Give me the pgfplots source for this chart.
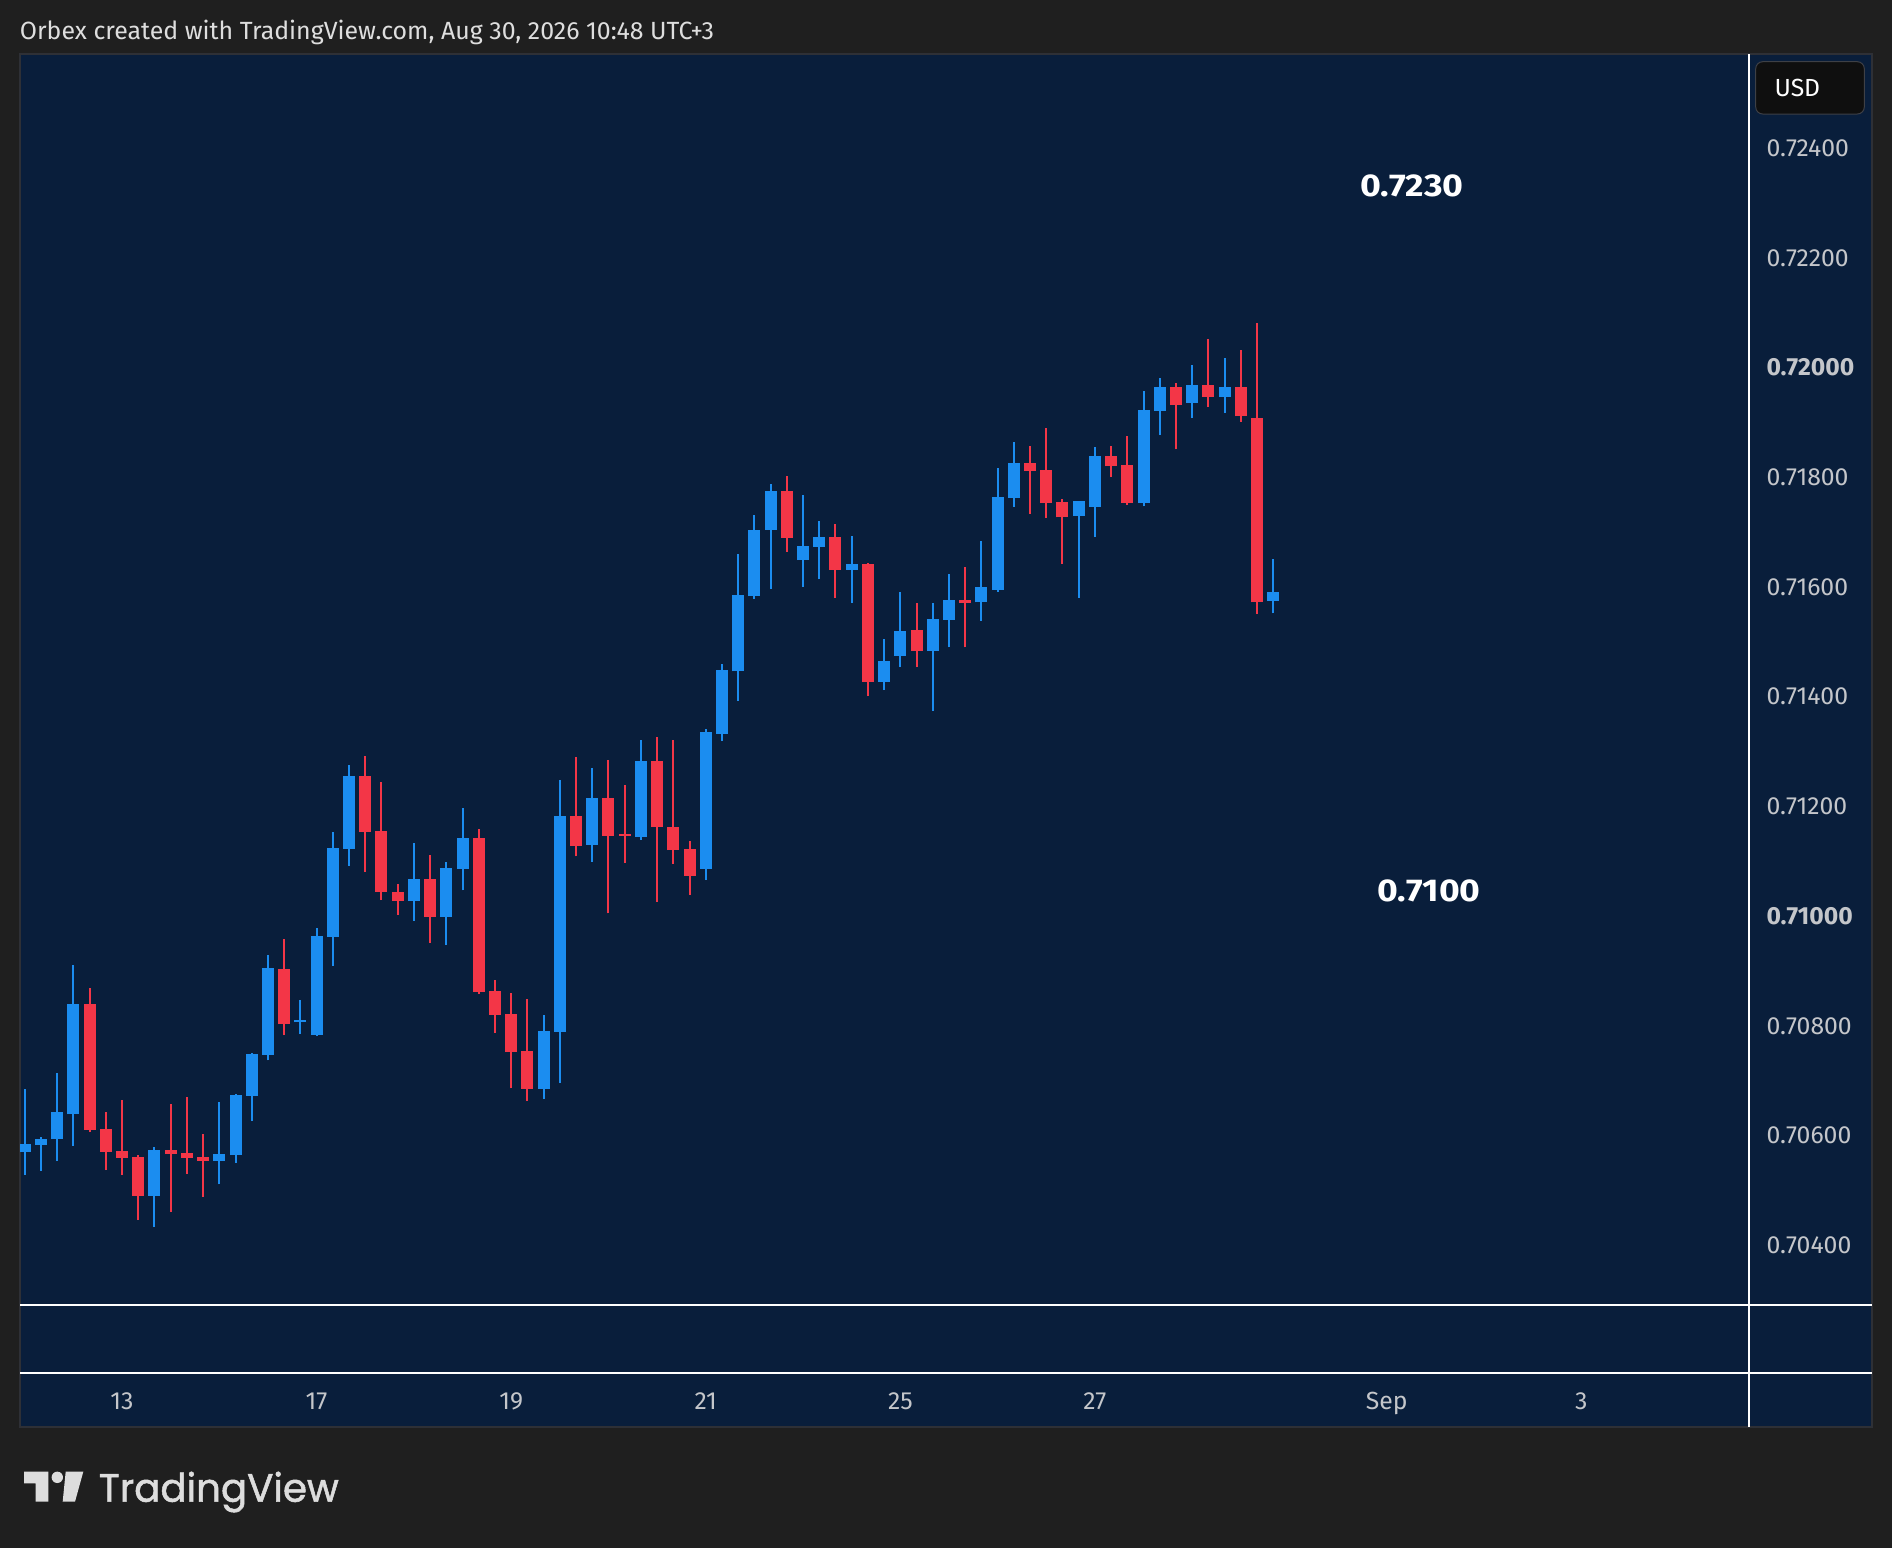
\documentclass[border=0pt]{standalone}
\usepackage{pgfplots}
\pgfplotsset{compat=1.18}
\usepackage{pgfplotstable}
\usepackage{graphicx}
\usepackage{fontspec}
\setmainfont{Fira Sans}
\newfontfamily\tvfont[FakeBold=1.3]{Poppins}
\definecolor{outerbg}{RGB}{31,31,31}
\definecolor{panel}{RGB}{9,30,59}
\definecolor{panelborder}{RGB}{46,48,54}
\definecolor{tvup}{RGB}{27,141,240}
\definecolor{tvdown}{RGB}{243,54,71}
\definecolor{lbl}{RGB}{196,198,202}
\definecolor{ttl}{RGB}{222,222,222}
\definecolor{usdbox}{RGB}{15,15,15}
\definecolor{usdborder}{RGB}{62,64,70}
\definecolor{logo}{RGB}{221,221,221}

% 4h candles, i = candle index (i=0: Aug 12 00:00), o h l c
\pgfplotstableread{
i o h l c
0 0.70569 0.70685 0.70528 0.70584
1 0.70583 0.70597 0.70535 0.70593
2 0.70593 0.70714 0.70553 0.70643
3 0.70639 0.70911 0.70581 0.70840
8 0.70490 0.70579 0.70433 0.70573
12 0.70553 0.70661 0.70511 0.70566
13 0.70564 0.70676 0.70550 0.70674
14 0.70672 0.70750 0.70626 0.70748
15 0.70747 0.70929 0.70737 0.70905
17 0.70806 0.70847 0.70785 0.70810
18 0.70783 0.70978 0.70781 0.70964
19 0.70962 0.71153 0.70909 0.71124
20 0.71122 0.71275 0.71091 0.71255
24 0.71027 0.71133 0.70991 0.71067
26 0.70998 0.71099 0.70947 0.71088
27 0.71086 0.71197 0.71047 0.71142
32 0.70685 0.70820 0.70666 0.70790
33 0.70789 0.71248 0.70696 0.71182
35 0.71130 0.71270 0.71099 0.71215
38 0.71144 0.71321 0.71139 0.71283
42 0.71086 0.71341 0.71066 0.71335
43 0.71332 0.71459 0.71319 0.71448
44 0.71446 0.71660 0.71392 0.71585
45 0.71583 0.71731 0.71578 0.71704
46 0.71704 0.71788 0.71596 0.71775
48 0.71649 0.71768 0.71600 0.71675
49 0.71673 0.71720 0.71614 0.71691
51 0.71631 0.71693 0.71571 0.71642
53 0.71427 0.71505 0.71412 0.71465
54 0.71474 0.71591 0.71454 0.71520
56 0.71483 0.71571 0.71374 0.71541
57 0.71540 0.71624 0.71490 0.71576
59 0.71572 0.71684 0.71538 0.71600
60 0.71594 0.71817 0.71591 0.71764
61 0.71762 0.71864 0.71746 0.71826
65 0.71729 0.71757 0.71580 0.71757
66 0.71746 0.71855 0.71691 0.71839
69 0.71753 0.71957 0.71747 0.71922
70 0.71921 0.71981 0.71877 0.71964
72 0.71935 0.72005 0.71908 0.71968
74 0.71946 0.72017 0.71917 0.71964
77 0.71574 0.71651 0.71552 0.71591
}\upT

\pgfplotstableread{
i o h l c
4 0.70840 0.70869 0.70606 0.70610
5 0.70612 0.70643 0.70537 0.70570
6 0.70572 0.70665 0.70528 0.70559
7 0.70561 0.70564 0.70446 0.70490
9 0.70573 0.70657 0.70460 0.70566
10 0.70568 0.70670 0.70530 0.70559
11 0.70561 0.70603 0.70488 0.70553
16 0.70903 0.70958 0.70783 0.70803
21 0.71255 0.71292 0.71080 0.71153
22 0.71155 0.71244 0.71029 0.71044
23 0.71044 0.71058 0.71002 0.71027
25 0.71067 0.71111 0.70951 0.70998
28 0.71142 0.71159 0.70858 0.70862
29 0.70864 0.70883 0.70787 0.70820
30 0.70821 0.70860 0.70686 0.70752
31 0.70754 0.70849 0.70663 0.70685
34 0.71182 0.71290 0.71109 0.71128
36 0.71215 0.71284 0.71005 0.71146
37 0.71150 0.71239 0.71097 0.71146
39 0.71283 0.71326 0.71026 0.71162
40 0.71162 0.71321 0.71095 0.71120
41 0.71122 0.71137 0.71039 0.71073
47 0.71775 0.71802 0.71664 0.71689
50 0.71691 0.71715 0.71580 0.71631
52 0.71642 0.71643 0.71401 0.71427
55 0.71521 0.71571 0.71454 0.71483
58 0.71576 0.71636 0.71490 0.71571
62 0.71826 0.71857 0.71733 0.71811
63 0.71813 0.71890 0.71726 0.71753
64 0.71755 0.71760 0.71642 0.71727
67 0.71839 0.71857 0.71800 0.71820
68 0.71822 0.71875 0.71749 0.71753
71 0.71964 0.71972 0.71851 0.71932
73 0.71968 0.72052 0.71928 0.71946
75 0.71964 0.72032 0.71901 0.71911
76 0.71908 0.72081 0.71551 0.71572
}\downT

\begin{document}
\begin{tikzpicture}
\begin{scope}[x=0.4pt,y=-0.4pt]
\path[use as bounding box] (0,0) rectangle (1892,1548);
\fill[outerbg] (0,0) rectangle (1892,1548);
\fill[panel] (20,54) rectangle (1872,1427);
\draw[panelborder, line width=0.8pt] (20,54) rectangle (1872,1427);
\end{scope}

\begin{axis}[
  at={(8pt,-21.6pt)}, anchor=north west,
  width=691.6pt, height=500.4pt, scale only axis,
  xmin=-0.29, xmax=106.34,
  ymin=0.702908, ymax=0.725716,
  axis line style={draw=none},
  major tick length=0pt, tick style={draw=none},
  /pgf/number format/assume math mode=true,
  scaled y ticks=false,
  xtick={6,18,30,42,54,66,84,96},
  xticklabels={13,17,19,21,25,27,Sep,3},
  ytick={0.704,0.706,0.708,0.71,0.712,0.714,0.716,0.718,0.72,0.722,0.724},
  yticklabels={0.70400,0.70600,0.70800,\textbf{0.71000},0.71200,0.71400,0.71600,0.71800,\textbf{0.72000},0.72200,0.72400},
  yticklabel pos=right,
  ticklabel style={font=\fontsize{9.9}{11}\selectfont, text=lbl, inner sep=0pt},
  yticklabel style={anchor=west, xshift=6.8pt},
  xticklabel style={anchor=base, yshift=-41.6pt},
]
% wicks
\addplot[draw=none, mark=none, forget plot,
  error bars/.cd, y dir=plus, y explicit, error mark=none,
  error bar style={draw=tvup, line width=0.8pt}]
  table[x=i, y=l, y error plus expr={\thisrow{h}-\thisrow{l}}] {\upT};
\addplot[draw=none, mark=none, forget plot,
  error bars/.cd, y dir=plus, y explicit, error mark=none,
  error bar style={draw=tvdown, line width=0.8pt}]
  table[x=i, y=l, y error plus expr={\thisrow{h}-\thisrow{l}}] {\downT};
% bodies
\addplot[draw=none, mark=none, forget plot,
  error bars/.cd, y dir=plus, y explicit, error mark=none,
  error bar style={draw=tvup, line width=4.8pt}]
  table[x=i, y=o, y error plus expr={\thisrow{c}-\thisrow{o}}] {\upT};
\addplot[draw=none, mark=none, forget plot,
  error bars/.cd, y dir=plus, y explicit, error mark=none,
  error bar style={draw=tvdown, line width=4.8pt}]
  table[x=i, y=c, y error plus expr={\thisrow{o}-\thisrow{c}}] {\downT};
\end{axis}

\begin{scope}[x=0.4pt,y=-0.4pt]
% separators
\draw[white, line width=0.8pt] (20,1305) -- (1872,1305);
\draw[white, line width=0.8pt] (20,1373) -- (1872,1373);
\draw[white, line width=0.8pt] (1749,54) -- (1749,1427);
% title
\node[anchor=base west, inner sep=0pt, text=ttl] at (19.4,39.3)
  {\resizebox{277.6pt}{!}{\fontsize{10.4}{12}\selectfont Orbex created with TradingView.com, Aug 30, 2026 10:48 UTC+3}};
% USD box
\draw[usdborder, fill=usdbox, line width=0.4pt, rounded corners=2.8pt] (1755.7,61.7) rectangle (1864.3,114);
\node[anchor=west, inner sep=0pt, text=white, font=\fontsize{9.9}{11}\selectfont] at (1774,87.7) {USD};
% annotations
\node[inner sep=0pt, text=white] at (1412,186)
  {\resizebox{41.2pt}{8.7pt}{\fontsize{12.6}{14}\selectfont\bfseries 0.7230}};
\node[inner sep=0pt, text=white] at (1429,890.5)
  {\resizebox{41.2pt}{8.7pt}{\fontsize{12.6}{14}\selectfont\bfseries 0.7100}};
% TradingView logo
\fill[logo] (24,1471.7) -- (48.3,1471.7) -- (48.3,1501.7) -- (35.7,1501.7) -- (35.7,1483.3) -- (24,1483.3) -- cycle;
\fill[logo] (57.3,1477.3) circle[radius=5.7];
\fill[logo] (65.7,1471.7) -- (83.3,1471.7) -- (75,1501.7) -- (62.7,1501.7) -- cycle;
\node[anchor=base west, inner sep=0pt, text=logo] at (98.3,1501.7)
  {\resizebox{96pt}{12pt}{\tvfont TradingView}};
\end{scope}
\end{tikzpicture}
\end{document}
